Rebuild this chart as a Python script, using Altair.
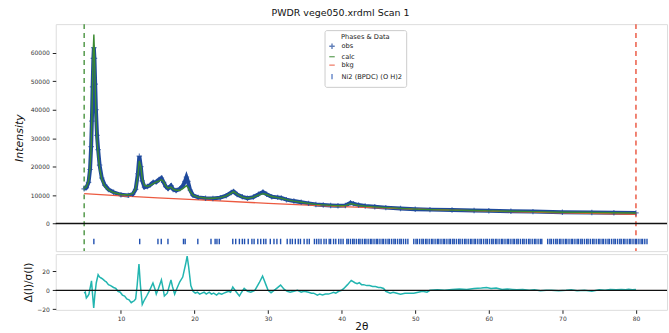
import altair as alt
import pandas as pd

# ---------------- data ----------------
tth = [5.0, 5.3, 5.6, 5.8, 5.95, 6.05, 6.15, 6.25, 6.32, 6.4, 6.5, 6.6, 6.75, 6.9, 7.1, 7.4, 7.8, 8.3,
       9.0, 10.0, 11.0, 11.6, 12.0, 12.3, 12.5, 12.7, 12.9, 13.2, 13.6, 14.0, 14.4, 14.8, 15.2, 15.5,
       15.8, 16.1, 16.4, 16.8, 17.1, 17.5, 18.0, 18.4, 18.7, 18.9, 19.1, 19.4, 19.8, 20.5, 21.5, 22.5,
       23.5, 24.3, 25.0, 25.3, 25.8, 26.5, 27.2, 28.0, 28.7, 29.3, 29.8, 30.5, 31.3, 31.8, 32.5, 33.5,
       34.5, 35.5, 36.5, 37.5, 38.5, 39.5, 40.5, 41.2, 41.6, 42.3, 43.2, 44.5, 46.0, 48.0, 50.0, 52.0,
       55.0, 58.0, 60.0, 63.0, 66.0, 70.0, 74.0, 77.0, 80.0]
obs = [12200, 12600, 14500, 19000, 27000, 36000, 48000, 58000, 61800, 58000, 49000, 40000, 31000, 26000,
       20500, 16000, 13500, 12000, 11000, 10100, 9900, 10300, 12000, 17500, 23700, 20000, 15000, 12800,
       13000, 13600, 14500, 14600, 15500, 16000, 14500, 13000, 12300, 13300, 12000, 11600, 12200, 13200,
       14800, 16300, 14800, 11800, 9900, 9200, 8900, 8800, 9100, 9800, 10900, 11300, 10200, 9400, 8900,
       9300, 10300, 11100, 10300, 9400, 9200, 9000, 8400, 7900, 7500, 7100, 6700, 6500, 6350, 6250, 6350,
       7300, 7000, 6500, 6200, 5900, 5600, 5300, 5050, 4900, 4750, 4600, 4500, 4350, 4200, 4000, 3900,
       3800, 3740]
calc = [12300, 12900, 15000, 19500, 26500, 37000, 50000, 62000, 66400, 60000, 48000, 38000, 29000, 24500,
        19500, 15500, 13200, 11800, 10900, 10200, 10100, 10600, 12200, 16500, 22000, 20000, 15700, 13400,
        13100, 13400, 14000, 14600, 15000, 15400, 14700, 13200, 12400, 12800, 12100, 11700, 11700, 12300,
        12900, 13300, 12700, 11200, 9900, 9300, 9000, 8900, 9100, 9700, 10700, 11200, 10300, 9300, 8900,
        9300, 10000, 10500, 10200, 9500, 9100, 8900, 8400, 7900, 7500, 7100, 6750, 6550, 6380, 6260, 6300,
        7000, 6800, 6400, 6100, 5850, 5600, 5320, 5080, 4900, 4740, 4590, 4470, 4340, 4200, 4000, 3900,
        3800, 3730]

bkg_tth = [5.0, 10.0, 15.0, 20.0, 30.0, 40.0, 50.0, 60.0, 70.0, 80.0]
bkg = [10500, 9700, 9000, 8400, 7100, 5950, 5050, 4350, 3780, 3280]

# (2theta, delta/sigma) pairs of the difference curve
diff_pts = [(5.0, -3), (5.15, -2), (5.3, -8), (5.5, -6), (5.65, -4), (5.85, 4), (6.0, 10), (6.15, -5),
            (6.3, -18.6), (6.45, -5), (6.65, 8), (6.9, 16.5), (7.1, 14), (7.3, 13), (7.5, 12), (7.8, 10),
            (8.0, 9), (8.3, 6), (8.6, 5), (9.0, 3), (9.3, 2), (9.6, -1), (9.9, -2), (10.2, -5),
            (10.5, -6), (10.8, -9), (11.1, -10), (11.4, -13), (11.6, -12), (11.8, -11), (12.0, -9),
            (12.2, 5), (12.45, 27.7), (12.65, 5), (12.9, -15), (13.2, -10), (13.5, -6), (13.9, 0),
            (14.35, 7.7), (14.6, 2), (14.8, -4), (15.1, 2), (15.5, 11), (15.7, 3), (15.9, -6),
            (16.3, -3), (16.8, 11), (17.0, 4), (17.3, -4), (17.6, 2), (18.0, 9), (18.4, 14), (18.8, 28),
            (19.0, 36), (19.2, 25), (19.5, 5), (19.8, -1), (20.1, -3), (20.4, -2), (20.7, -4), (21.0, -3),
            (21.3, -2), (21.6, -4), (22.0, -2), (22.3, -4), (22.6, -3), (23.0, -5), (23.3, -3),
            (23.7, -4), (24.0, -3), (24.3, -2), (24.6, -1), (24.9, -2), (25.2, 3.5), (25.6, -1),
            (26.1, -6), (26.4, -2), (26.75, 2), (27.2, -1), (27.65, -2), (28.2, 0), (28.8, 8),
            (29.25, 15), (29.7, 6), (30.0, 0), (30.4, -2.5), (31.0, 1), (31.7, 5.5), (32.2, 1),
            (32.6, -1), (33.0, -2), (33.5, -1), (34.0, 0), (34.5, -2), (34.9, -1), (35.5, -2), (35.9, -3),
            (36.2, -3), (36.7, -5), (37.0, -4), (37.4, -5), (37.8, -4), (38.2, -4), (38.6, -3), (38.9, -2),
            (39.2, -3), (39.6, -1), (40.0, 0), (40.3, 2), (40.8, 6), (41.3, 10.5), (41.8, 8), (42.1, 7),
            (42.4, 8), (42.7, 6), (43.0, 6), (43.4, 5), (43.8, 5), (44.2, 4), (44.6, 4), (45.0, 3),
            (45.3, 3), (45.7, 2), (46.0, -1), (46.6, -3), (47.0, -2), (47.5, -3), (48.0, -4), (48.6, -3),
            (49.2, -3), (49.8, -3), (50.4, -2), (51.0, -1), (51.6, -2), (52.0, 0), (53.0, 0.5), (54.0, 0),
            (55.0, 1), (56.0, 1.5), (57.0, 1), (58.0, 2), (59.0, 2.5), (59.7, 3), (60.3, 2), (61.0, 2.5),
            (61.8, 1), (62.5, 1.5), (63.2, 1), (63.8, 0.5), (64.6, 1), (65.5, 0), (66.2, 0.5),
            (67.0, -0.5), (67.8, 0), (68.5, 0), (69.5, -0.5), (70.5, 0), (71.2, 0.5), (72.0, -0.5),
            (73.0, 0), (74.0, -1), (75.0, 0.5), (75.8, 0), (76.5, 1), (77.3, 0.5), (78.0, 1),
            (78.6, 0.5), (79.0, 1), (79.5, 0.5), (80.0, 1)]

refl = [6.32, 12.55, 15.03, 15.48, 16.39, 18.5, 18.73, 20.45, 22.24, 22.8, 23.05, 23.37,
        25.2, 25.6, 26.1, 26.5, 26.8, 27.3, 27.8, 28.1, 28.6, 29.0, 29.4, 29.7, 30.3, 30.8, 31.2, 31.7,
        32.6, 33.0, 33.3, 33.7, 34.1, 34.4, 34.9, 35.3, 35.6,
        36.3, 36.6, 36.9, 37.2, 37.6, 37.9, 38.3, 38.5, 38.9, 39.2, 39.6, 39.9, 40.2,
        40.7, 40.9, 41.2, 41.5, 41.7, 42.0, 42.3, 42.5, 42.8, 43.1, 43.3, 43.6, 43.9, 44.1, 44.4, 44.7,
        44.9, 45.2, 45.5, 45.7, 46.0, 46.3, 46.5, 46.8, 47.1, 47.3, 47.6, 47.9, 48.1, 48.4, 48.7, 49.0,
        49.8, 50.1, 50.3, 50.6, 50.9, 51.1, 51.4, 51.6, 51.9, 52.2, 52.4, 52.7, 53.0, 53.2, 53.5, 53.8,
        54.0, 54.3, 54.6, 54.8, 55.1, 55.3, 55.6, 55.9, 56.1, 56.4, 56.7, 56.9, 57.2, 57.5, 57.7, 58.0,
        58.2, 58.5, 58.8, 59.0, 59.3, 59.6, 59.8, 60.1, 60.4, 60.6, 60.9, 61.1, 61.4, 61.7, 61.9, 62.2,
        62.5, 62.7, 63.0, 63.3, 63.5, 63.8, 64.0, 64.3, 64.6, 64.8, 65.1, 65.4, 65.6, 65.9, 66.2, 66.4,
        66.7, 67.0, 67.2,
        68.0, 68.3, 68.5, 68.8, 69.1, 69.3, 69.6, 69.8, 70.1, 70.4, 70.6, 70.9, 71.2, 71.4, 71.7, 72.0,
        72.2, 72.5, 72.7, 73.0, 73.3, 73.5, 73.8, 74.1, 74.3, 74.6, 74.9, 75.1, 75.4, 75.6, 75.9, 76.2,
        76.4, 76.7, 77.0, 77.2, 77.5, 77.8, 78.0, 78.3, 78.5, 78.8, 79.1, 79.3, 79.6, 79.9, 80.1, 80.4,
        80.7, 80.9, 81.2, 81.5]

limits = [5.0, 80.0]
limit_colors = ["#3a8a30", "#e8432a"]
series = ["obs", "calc", "bkg", "Ni2 (BPDC) (O H)2"]
series_colors = ["#1f4a9c", "#3a8a30", "#ec5a40", "#2050b0"]
series_shapes = ["M-1,0L1,0M0,-1L0,1", "stroke", "stroke", "M0,-1L0,1"]
y_ticks = [0, 10000, 20000, 30000, 40000, 50000, 60000]
d_ticks = [-20, 0, 20]
x_ticks = [10, 20, 30, 40, 50, 60, 70, 80]

# ---------------- frames ----------------
prof = pd.DataFrame({"tth": tth, "obs": obs, "calc": calc})
bk = pd.DataFrame({"tth": bkg_tth, "bkg": bkg})
df_diff = pd.DataFrame(diff_pts, columns=["tth", "d"])
df_refl = pd.DataFrame({"tth": refl, "y1": [-5300] * len(refl), "y2": [-7300] * len(refl)})
df_lim = pd.DataFrame({"tth": limits, "c": limit_colors})
df_leg = pd.DataFrame({"series": series, "tth": [-50] * 4, "v": [0] * 4})

XD = [1.14, 84.22]
W = 614
xs = alt.Scale(domain=XD, nice=False, zero=False)
ys = alt.Scale(domain=[-9680, 70060], nice=False, zero=False)
lys = alt.Scale(domain=[-20.6, 38.2], nice=False, zero=False)
FONT = "DejaVu Sans"

xn = alt.X("tth:Q", scale=xs, axis=None)

# identical axis definition used by every y encoding of the upper panel (no merge conflicts)
yaxis = alt.Axis(values=y_ticks, title="Intensity",
                 titleFontStyle="italic", titleFontSize=11, titleFontWeight="normal",
                 titlePadding=6, labelFontSize=6, format="d", grid=False, domain=False,
                 tickSize=3.5, tickColor="#222", labelColor="#333", labelPadding=3,
                 minExtent=0, maxExtent=26,
                 labelOverlap=False, titleColor="#111", labelFont=FONT, titleFont=FONT)
daxis = alt.Axis(values=d_ticks, title="Δ(I)/σ(I)", titleFontSize=10.5,
                 titleFontWeight="normal", labelFontSize=6, grid=False, domain=False,
                 titlePadding=3, minExtent=0, maxExtent=19,
                 tickSize=3.5, tickColor="#222", labelColor="#333",
                 labelOverlap=False, labelPadding=3, labelFont=FONT, titleFont=FONT,
                 titleColor="#111")


def yn(field):
    return alt.Y(field, scale=ys, axis=yaxis, title="Intensity")


base = alt.Chart(prof)

obs_line = base.mark_line(color="#1f4a9c", strokeWidth=4, clip=True).encode(x=xn, y=yn("obs:Q"))
obs_pts = base.mark_point(shape="M-1,0L1,0M0,-1L0,1", size=30, color="#1f4a9c", strokeWidth=1.2,
                          filled=False, clip=True).encode(x=xn, y=yn("obs:Q"))
calc_line = base.mark_line(color="#3a8a30", strokeWidth=1.4, clip=True).encode(x=xn, y=yn("calc:Q"))
bkg_line = alt.Chart(bk).mark_line(color="#ec5a40", strokeWidth=1.3, clip=True).encode(
    x=xn, y=yn("bkg:Q"))
zero_up = alt.Chart(pd.DataFrame({"v": [0]})).mark_rule(color="#111", strokeWidth=1.4).encode(
    y=yn("v:Q"))
refl_ticks = alt.Chart(df_refl).mark_rule(color="#2050b0", strokeWidth=1.4, clip=True).encode(
    x=xn, y=yn("y1:Q"), y2="y2:Q")
lim_lines = alt.Chart(df_lim).mark_rule(strokeDash=[5, 4], strokeWidth=1.3).encode(
    x=xn, stroke=alt.Stroke("c:N", scale=None, legend=None))
legend_layer = alt.Chart(df_leg).mark_point(filled=False, clip=True, size=30, strokeWidth=1.5).encode(
    x=xn, y=yn("v:Q"),
    color=alt.Color("series:N", sort=None,
                    scale=alt.Scale(domain=series, range=series_colors),
                    legend=alt.Legend(title="Phases & Data", orient="none", legendX=270, legendY=6,
                                      padding=4, titleFontSize=6.7, labelFontSize=6.7,
                                      titleFontWeight="normal", titleAnchor="middle", titleAlign="center",
                                      strokeColor="#cccccc", fillColor="white", cornerRadius=2,
                                      symbolSize=30, symbolStrokeWidth=1.4, rowPadding=0.5,
                                      labelFont=FONT, titleFont=FONT, labelColor="#222",
                                      titleColor="#222", titlePadding=2, labelOffset=6)),
    shape=alt.Shape("series:N", sort=None,
                    scale=alt.Scale(domain=series, range=series_shapes), legend=None))

upper = alt.layer(obs_line, lim_lines, bkg_line, obs_pts, calc_line, zero_up, refl_ticks,
                  legend_layer).properties(width=W, height=228)

lower_line = alt.Chart(df_diff).mark_line(color="#22b5b0", strokeWidth=1.5, clip=True).encode(
    x=alt.X("tth:Q", scale=xs, title="2θ",
            axis=alt.Axis(values=x_ticks, title="2θ", titleFontSize=10.5,
                          titleFontWeight="normal", labelFontSize=6, grid=False, domain=False,
                          tickSize=3.5, tickColor="#222", labelColor="#333", titlePadding=0,
                          labelPadding=2.5, labelFont=FONT, titleFont=FONT, titleColor="#111")),
    y=alt.Y("d:Q", scale=lys, axis=daxis, title="Δ(I)/σ(I)"))
zero_low = alt.Chart(pd.DataFrame({"v": [0]})).mark_rule(color="#111", strokeWidth=1.4).encode(
    y=alt.Y("v:Q", scale=lys, axis=daxis, title="Δ(I)/σ(I)"))
lower = alt.layer(lower_line, zero_low).properties(width=W, height=56)

chart = alt.vconcat(upper, lower, spacing=0).properties(
    title=alt.TitleParams("PWDR vege050.xrdml Scan 1", fontSize=9.5, fontWeight="normal",
                          font=FONT, color="#111", anchor="middle", offset=6),
    padding={"left": 12, "top": 6.5, "right": 0, "bottom": 0},
).configure_view(stroke="#555", strokeWidth=1).configure_axis(
    labelOverlap=False, labelBound=False, labelFlush=False
).configure(background="white")

chart.save("out.html", embed_options={"renderer": "svg", "actions": False})
